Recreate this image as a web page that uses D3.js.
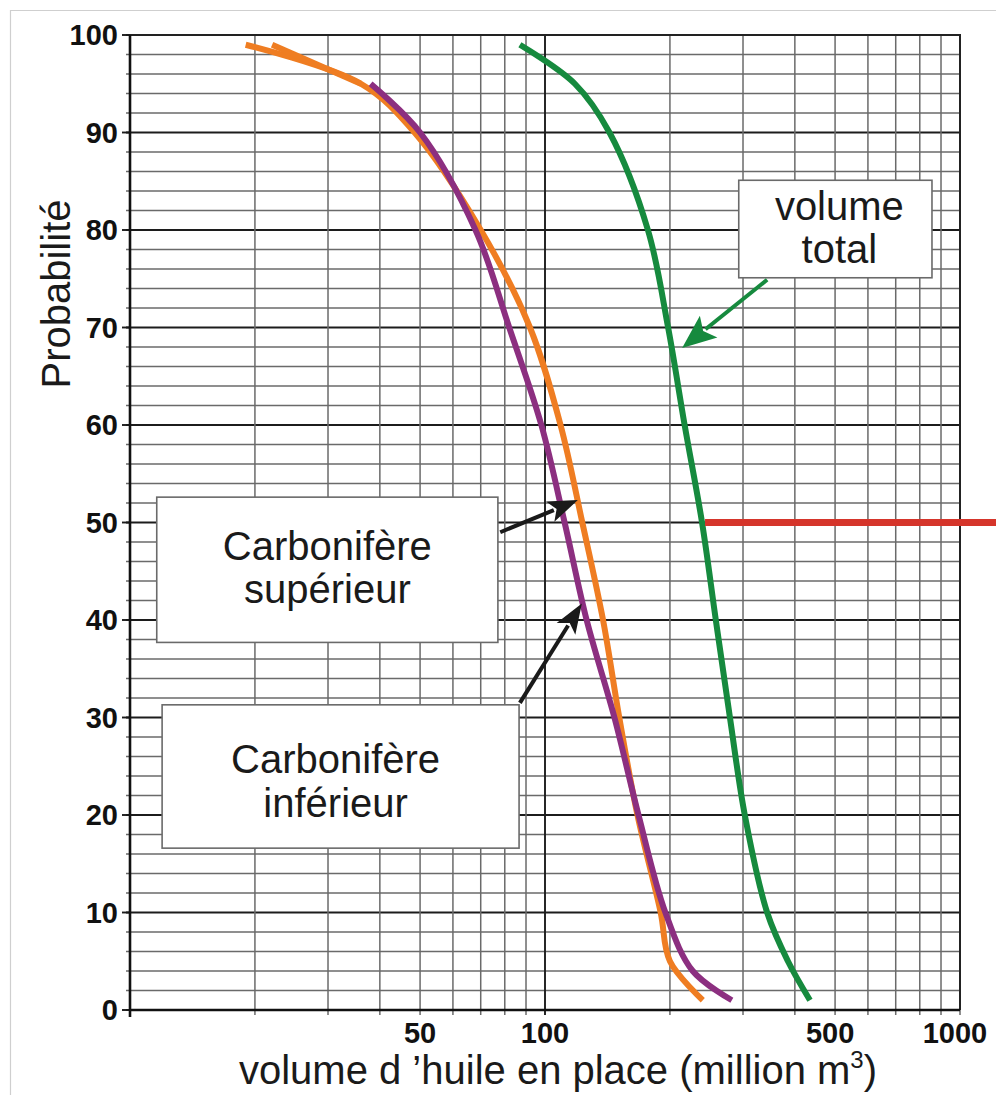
<!DOCTYPE html>
<html lang="fr">
<head>
<meta charset="utf-8">
<script src="https://d3js.org/d3.v7.min.js"></script>
<style>
  body { margin: 0; background: #fff; }
  svg { display: block; font-family: "Liberation Sans", Arial, sans-serif; }
</style>
</head>
<body>
<div id="chart"></div>
<script>
// volume (million m3), probabilité (%)
const superieur = [[19, 99], [36, 95], [48.5, 90], [70, 80], [92, 70], [109, 60], [123, 50], [138, 40], [151, 30], [167, 20], [190, 10], [200, 5], [240, 1]];
const superieurBis = [[22, 99], [36, 95]];
const inferieur = [[38, 95], [50, 90], [68, 80], [82, 70], [98, 60], [111.5, 50], [126, 40], [147, 30], [168, 20], [195, 10], [227, 4], [282, 1]];
const total = [[87, 99], [118, 95], [143, 90], [177, 80], [198, 70], [217, 60], [239, 50], [258, 40], [279, 30], [303, 20], [343, 10], [385, 5], [435, 1]];
const median = [[239, 50], [1230, 50]];

const volumeTicks = [50, 100, 500, 1000];
const probTicks = [0, 10, 20, 30, 40, 50, 60, 70, 80, 90, 100];

const width = 996, height = 1095;
const plotLeft = 130, plotRight = 960, plotTop = 35, plotBottom = 1010;

const svg = d3.select("#chart").append("svg")
    .attr("width", width)
    .attr("height", height);

const x = d3.scaleLog().domain([10, 1000]).range([plotLeft, plotRight]);
const y = d3.scaleLinear().domain([0, 100]).range([plotBottom, plotTop]);

// outer frame of the picture
svg.append("path")
    .attr("d", `M10.5,${height} V10.5 H${width}`)
    .attr("fill", "none")
    .attr("stroke", "#cfcfcf")
    .attr("stroke-width", 1.2);

// grid
const g = svg.append("g");
g.selectAll(".hgrid")
    .data(y.ticks(50))
    .join("line")
    .attr("x1", plotLeft - 4).attr("x2", plotRight)
    .attr("y1", d => y(d)).attr("y2", d => y(d))
    .attr("stroke", d => d % 10 === 0 ? "#1c1c1c" : "#6a6a6a")
    .attr("stroke-width", d => d % 10 === 0 ? 1.9 : 1.5);

g.selectAll(".ymajor")
    .data(probTicks)
    .join("line")
    .attr("x1", plotLeft - 8).attr("x2", plotLeft)
    .attr("y1", d => y(d)).attr("y2", d => y(d))
    .attr("stroke", "#1c1c1c")
    .attr("stroke-width", 1.9);

g.selectAll(".vgrid")
    .data(x.ticks())
    .join("line")
    .attr("x1", d => x(d)).attr("x2", d => x(d))
    .attr("y1", plotTop).attr("y2", plotBottom + 5)
    .attr("stroke", d => d === 100 ? "#1c1c1c" : "#6a6a6a")
    .attr("stroke-width", d => d === 100 ? 1.9 : 1.5);

// frame of plot
svg.append("path")
    .attr("d", `M${plotLeft},${plotTop} H${plotRight} V${plotBottom}`)
    .attr("fill", "none")
    .attr("stroke", "#222")
    .attr("stroke-width", 2);
svg.append("path")
    .attr("d", `M${plotLeft},${plotTop} V${plotBottom + 7} M${plotLeft},${plotBottom} H${plotRight}`)
    .attr("fill", "none")
    .attr("stroke", "#111")
    .attr("stroke-width", 2.6);

// tick labels
svg.selectAll(".ylab")
    .data(probTicks)
    .join("text")
    .attr("x", plotLeft - 12)
    .attr("y", d => y(d))
    .attr("dy", "0.36em")
    .attr("text-anchor", "end")
    .attr("font-size", 29)
    .attr("font-weight", "bold")
    .attr("fill", "#111")
    .text(d => d);

svg.selectAll(".xlab")
    .data(volumeTicks)
    .join("text")
    .attr("x", d => x(d) - (d >= 500 ? 5 : 0))
    .attr("y", plotBottom + 33)
    .attr("text-anchor", "middle")
    .attr("font-size", 29)
    .attr("font-weight", "bold")
    .attr("fill", "#111")
    .text(d => d);

// axis titles
const xt = svg.append("text")
    .attr("x", 558)
    .attr("y", 1084)
    .attr("text-anchor", "middle")
    .attr("font-size", 40)
    .attr("fill", "#1a1a1a");
xt.append("tspan").text("volume d \u2019huile en place (million m");
xt.append("tspan").attr("font-size", 24).attr("dy", -16).text("3");
xt.append("tspan").attr("dy", 16).text(")");

svg.append("text")
    .attr("transform", "translate(70,294) rotate(-90)")
    .attr("text-anchor", "middle")
    .attr("font-size", 40)
    .attr("fill", "#1a1a1a")
    .text("Probabilité");

// curves
const line = d3.line().x(d => x(d[0])).y(d => y(d[1])).curve(d3.curveCatmullRom.alpha(0.5));
const series = [
    { data: superieur, color: "#ef7d22" },
    { data: superieurBis, color: "#ef7d22" },
    { data: inferieur, color: "#8c2f80" },
    { data: total, color: "#168a3e" }
];
svg.selectAll(".curve")
    .data(series)
    .join("path")
    .attr("d", d => line(d.data))
    .attr("fill", "none")
    .attr("stroke", d => d.color)
    .attr("stroke-width", 6)
    .attr("stroke-linejoin", "round");

svg.append("path")
    .attr("d", d3.line().x(d => x(d[0]) + 3).y(d => y(d[1]))(median))
    .attr("fill", "none")
    .attr("stroke", "#d5352b")
    .attr("stroke-width", 7);

// annotation boxes
const boxes = [
    { v: [11.6, 77], p: [52.6, 37.7], lines: ["Carbonifère", "supérieur"], base: [63, 106], dx: 0 },
    { v: [11.95, 86.6], p: [31.3, 16.6], lines: ["Carbonifère", "inférieur"], base: [68, 112], dx: -5 },
    { v: [293, 856], p: [85.1, 75.1], lines: ["volume", "total"], base: [40, 83], dx: 4 }
];
boxes.forEach(b => {
    const x0 = x(b.v[0]), x1 = x(b.v[1]), y0 = y(b.p[0]), y1 = y(b.p[1]);
    svg.append("rect")
        .attr("x", x0).attr("y", y0)
        .attr("width", x1 - x0).attr("height", y1 - y0)
        .attr("fill", "#fff")
        .attr("stroke", "#6a6a6a")
        .attr("stroke-width", 1.6);
    b.lines.forEach((t, i) => {
        svg.append("text")
            .attr("x", (x0 + x1) / 2 + b.dx)
            .attr("y", y0 + b.base[i])
            .attr("text-anchor", "middle")
            .attr("font-size", 40)
            .attr("fill", "#1a1a1a")
            .text(t);
    });
});

// arrows
const arrows = [
    { from: [78, 49], to: [120, 52.3], color: "#1a1a1a", len: 30, half: 11 },
    { from: [87, 31.5], to: [122.7, 41.7], color: "#1a1a1a", len: 30, half: 11 },
    { from: [343, 74.9], to: [214, 67.9], color: "#168a3e", len: 34, half: 14 }
];
arrows.forEach(a => {
    const x0 = x(a.from[0]), y0 = y(a.from[1]), x1 = x(a.to[0]), y1 = y(a.to[1]);
    const dist = Math.hypot(x1 - x0, y1 - y0);
    const ux = (x1 - x0) / dist, uy = (y1 - y0) / dist;
    const bx = x1 - ux * a.len, by = y1 - uy * a.len;
    svg.append("line")
        .attr("x1", x0).attr("y1", y0)
        .attr("x2", bx + ux * 4).attr("y2", by + uy * 4)
        .attr("stroke", a.color)
        .attr("stroke-width", 4);
    const nx = bx + ux * 7, ny = by + uy * 7;
    svg.append("path")
        .attr("d", `M${x1},${y1} L${bx - uy * a.half},${by + ux * a.half} L${nx},${ny} L${bx + uy * a.half},${by - ux * a.half} Z`)
        .attr("fill", a.color);
});
</script>
</body>
</html>
